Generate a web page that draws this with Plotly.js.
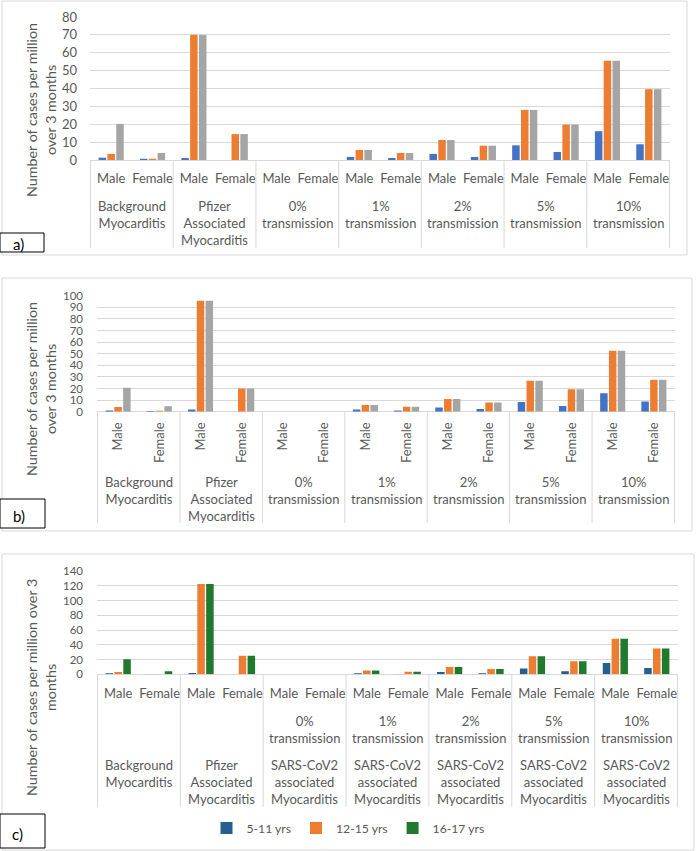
<!DOCTYPE html>
<html><head><meta charset="utf-8">
<script src="https://cdn.plot.ly/plotly-3.0.1.min.js"></script>
<style>html,body{margin:0;padding:0;background:#fff}#chart{width:696px;height:851px}</style>
</head><body><div id="chart"></div>
<script>
// ---- data ----
const ageGroups = ['5-11 yrs', '12-15 yrs', '16-17 yrs'];
const sexes = ['Male', 'Female'];
const groupKeys = ['Background', 'Pfizer', '0%', '1%', '2%', '5%', '10%'];
const groupLabelsAB = ['Background<br>Myocarditis', 'Pfizer<br>Associated<br>Myocarditis', '0%<br>transmission', '1%<br>transmission', '2%<br>transmission', '5%<br>transmission', '10%<br>transmission'];
const transmissionLabelsC = ['', '', '0%<br>transmission', '1%<br>transmission', '2%<br>transmission', '5%<br>transmission', '10%<br>transmission'];
const sourceLabelsC = ['Background<br>Myocarditis', 'Pfizer<br>Associated<br>Myocarditis', 'SARS-CoV2<br>associated<br>Myocarditis', 'SARS-CoV2<br>associated<br>Myocarditis', 'SARS-CoV2<br>associated<br>Myocarditis', 'SARS-CoV2<br>associated<br>Myocarditis', 'SARS-CoV2<br>associated<br>Myocarditis'];
const yTitleAB = 'Number of cases per million<br>over 3 months';
const yTitleC = 'Number of cases per million over 3<br>months';

// order: BG M, BG F, Pfizer M, Pfizer F, 0% M, 0% F, 1% M, 1% F, 2% M, 2% F, 5% M, 5% F, 10% M, 10% F
const a_5_11  = [1.3, 0.7, 1.1, 0, 0, 0, 1.7, 1.1, 3.4, 1.7, 8.2, 4.5, 16.1, 8.8];
const a_12_15 = [3.4, 0.7, 70, 14.5, 0, 0, 5.6, 3.9, 11.2, 8.0, 28.0, 19.8, 55.5, 39.6];
const a_16_17 = [20.2, 3.9, 70, 14.5, 0, 0, 5.6, 3.9, 11.2, 8.0, 28.0, 19.8, 55.5, 39.6];

const b_5_11  = [1.1, 0.6, 2.0, 0, 0, 0, 2.0, 1.1, 3.7, 2.3, 8.3, 4.9, 15.8, 8.9];
const b_12_15 = [4.0, 0.9, 95.7, 20.1, 0, 0, 5.7, 4.3, 10.9, 8.0, 26.7, 19.3, 52.6, 27.6];
const b_16_17 = [20.7, 4.6, 95.7, 20.1, 0, 0, 5.7, 4.3, 10.9, 8.0, 26.7, 19.3, 52.6, 27.6];

const c_5_11  = [1.4, 0.5, 1.8, 0, 0, 0, 1.4, 0.5, 3.2, 1.4, 7.7, 4.1, 15.3, 8.6];
const c_12_15 = [3.2, 0.5, 122.3, 25.3, 0, 0, 5.0, 3.6, 9.9, 7.2, 24.4, 17.6, 48.3, 34.8];
const c_16_17 = [20.3, 4.1, 122.3, 25.3, 0, 0, 5.0, 3.6, 9.9, 7.2, 24.4, 17.6, 48.3, 34.8];

// ---- build ----
const categories = [];
const tickText = [];
groupKeys.forEach(g => sexes.forEach(s => { categories.push(g + ' ' + s); tickText.push(s); }));

const W = 696, H = 851;
const px = v => v / W, py = v => 1 - v / H;
const FONT = 'Lato, "Open Sans", sans-serif';
const GREY = '#595959';
const LINE = '#d9d9d9';

const panels = [
  {id: '', series: [a_5_11, a_12_15, a_16_17], colors: ['#4472c4', '#ed7d31', '#a5a5a5'], legend: false,
   xd: [90, 670], yd: [17, 160], range: [0, 80], dtick: 10, angle: 0, divBottom: 248,
   tickSize: 13, yStand: 12, xStand: 9,
   box: [2, 1, 687, 255], tag: 'a)', tagBox: [0, 233, 44, 252], tagXY: [18, 244],
   yt: yTitleAB, ytXY: [41, 110]},
  {id: '2', series: [b_5_11, b_12_15, b_16_17], colors: ['#4472c4', '#ed7d31', '#a5a5a5'], legend: false,
   xd: [97, 675], yd: [295.7, 411.7], range: [0, 100], dtick: 10, angle: -90, divBottom: 523,
   tickSize: 11.5, yStand: 13, xStand: 7,
   box: [2, 278, 692, 531], tag: 'b)', tagBox: [0, 499, 45, 528], tagXY: [19, 516],
   yt: yTitleAB, ytXY: [41, 389]},
  {id: '3', series: [c_5_11, c_12_15, c_16_17], colors: ['#255e91', '#ed7d31', '#1f7a2e'], legend: true,
   xd: [97, 678], yd: [571, 674.3], range: [0, 140], dtick: 20, angle: 0, divBottom: 807,
   tickSize: 11.5, yStand: 13, xStand: 10,
   box: [2, 554, 694, 850], tag: 'c)', tagBox: [0, 814, 45, 848], tagXY: [17, 834],
   yt: yTitleC, ytXY: [41, 688]}
];

const data = [];
const layout = {
  width: W, height: H, margin: {l: 0, r: 0, t: 0, b: 0},
  paper_bgcolor: '#fff', plot_bgcolor: '#fff',
  barmode: 'group', bargap: 0.36, bargroupgap: 0.15,
  font: {family: FONT, size: 13, color: GREY},
  showlegend: true,
  legend: {orientation: 'h', x: px(348), xanchor: 'center', y: py(828), yanchor: 'middle',
           font: {family: FONT, size: 12.2, color: GREY}, traceorder: 'normal', bgcolor: 'rgba(0,0,0,0)'},
  shapes: [], annotations: []
};

panels.forEach(p => {
  p.series.forEach((vals, i) => {
    data.push({type: 'bar', name: ageGroups[i], x: categories, y: vals,
      xaxis: 'x' + p.id, yaxis: 'y' + p.id, marker: {color: p.colors[i]},
      showlegend: p.legend, hoverinfo: 'x+y+name'});
  });
  layout['xaxis' + p.id] = {
    domain: [px(p.xd[0]), px(p.xd[1])], anchor: 'y' + p.id, type: 'category',
    categoryorder: 'array', categoryarray: categories, tickvals: categories, ticktext: tickText,
    tickangle: p.angle, showgrid: false, zeroline: false, showline: false, ticks: '', ticklabelstandoff: p.xStand,
    tickfont: {family: FONT, size: 13, color: GREY}, fixedrange: true
  };
  layout['yaxis' + p.id] = {
    domain: [py(p.yd[1]), py(p.yd[0])], anchor: 'x' + p.id, range: p.range, tick0: 0, dtick: p.dtick,
    showgrid: true, gridcolor: LINE, gridwidth: 1, zeroline: true, zerolinecolor: LINE, zerolinewidth: 1,
    showline: false, ticks: '', ticklabelstandoff: p.yStand,
    tickfont: {family: FONT, size: p.tickSize, color: GREY}, fixedrange: true
  };
  // panel border
  layout.shapes.push({type: 'rect', xref: 'paper', yref: 'paper', x0: px(p.box[0]), x1: px(p.box[2]),
    y0: py(p.box[3]), y1: py(p.box[1]), line: {color: LINE, width: 1}, fillcolor: 'rgba(0,0,0,0)', layer: 'below'});
  // category dividers
  for (let g = 0; g <= groupKeys.length; g++) {
    layout.shapes.push({type: 'line', xref: 'x' + p.id, yref: 'paper', x0: 2 * g - 0.5, x1: 2 * g - 0.5,
      y0: py(p.yd[1]), y1: py(p.divBottom), line: {color: LINE, width: 1}});
  }
  // panel tag
  layout.shapes.push({type: 'rect', xref: 'paper', yref: 'paper', x0: px(p.tagBox[0]), x1: px(p.tagBox[2]),
    y0: py(p.tagBox[3]), y1: py(p.tagBox[1]), line: {color: '#000', width: 1}, fillcolor: '#fff'});
  layout.annotations.push({xref: 'paper', yref: 'paper', x: px(p.tagXY[0]), y: py(p.tagXY[1]),
    text: p.tag, showarrow: false, font: {family: FONT, size: 15, color: '#000'}, xanchor: 'center', yanchor: 'middle'});
  // y title
  layout.annotations.push({xref: 'paper', yref: 'paper', x: px(p.ytXY[0]), y: py(p.ytXY[1]),
    text: p.yt, textangle: -90, showarrow: false, font: {family: FONT, size: 14.3, color: GREY},
    xanchor: 'center', yanchor: 'middle'});
});

function addGroupLabels(axId, labels, topPx) {
  labels.forEach((t, g) => {
    if (!t) return;
    layout.annotations.push({xref: 'x' + axId, yref: 'paper', x: 2 * g + 0.5, y: py(topPx),
      text: t, showarrow: false, yanchor: 'top', xanchor: 'center', align: 'center',
      font: {family: FONT, size: 13, color: GREY}});
  });
}
addGroupLabels('', groupLabelsAB, 196);
addGroupLabels('2', groupLabelsAB, 472);
addGroupLabels('3', transmissionLabelsC, 711);
addGroupLabels('3', sourceLabelsC, 755);

Plotly.newPlot('chart', data, layout, {displayModeBar: false, staticPlot: true});
</script></body></html>
